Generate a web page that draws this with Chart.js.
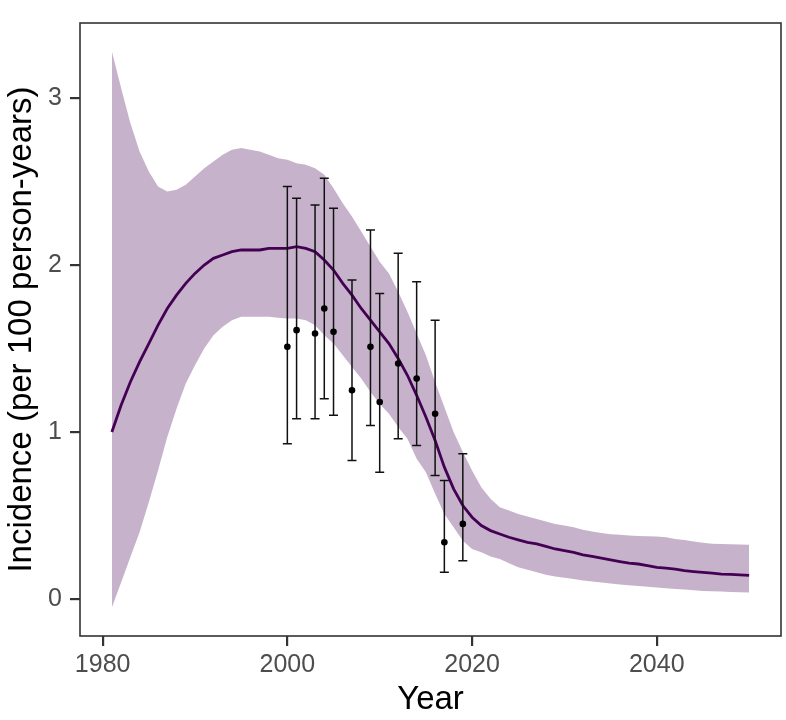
<!DOCTYPE html>
<html>
<head>
<meta charset="utf-8">
<script src="https://cdn.jsdelivr.net/npm/chart.js@4.4.0/dist/chart.umd.min.js"></script>
<style>
  html, body { margin: 0; padding: 0; background: #fff; }
</style>
</head>
<body>
<canvas id="incidenceChart" width="786" height="720"></canvas>
<script>
// model years
const years = [
    1981, 1982, 1983, 1984, 1985, 1986, 1987, 1988, 1989, 1990,
    1991, 1992, 1993, 1994, 1995, 1996, 1997, 1998, 1999, 2000,
    2001, 2002, 2003, 2004, 2005, 2006, 2007, 2008, 2009, 2010,
    2011, 2012, 2013, 2014, 2015, 2016, 2017, 2018, 2019, 2020,
    2021, 2022, 2023, 2024, 2025, 2026, 2027, 2028, 2029, 2030,
    2031, 2032, 2033, 2034, 2035, 2036, 2037, 2038, 2039, 2040,
    2041, 2042, 2043, 2044, 2045, 2046, 2047, 2048, 2049, 2050
];

// model estimate (median)
const fitMid = [
    1.00, 1.16, 1.30, 1.42, 1.53, 1.64, 1.74, 1.82, 1.89, 1.95,
    2.00, 2.04, 2.06, 2.08, 2.09, 2.09, 2.09, 2.10, 2.10, 2.10,
    2.11, 2.10, 2.08, 2.03, 1.97, 1.89, 1.82, 1.74, 1.67, 1.60,
    1.53, 1.44, 1.34, 1.22, 1.09, 0.95, 0.79, 0.66, 0.56, 0.49,
    0.44, 0.41, 0.39, 0.37, 0.355, 0.34, 0.33, 0.315, 0.30, 0.29,
    0.28, 0.265, 0.255, 0.245, 0.235, 0.225, 0.215, 0.21, 0.20, 0.19,
    0.185, 0.18, 0.17, 0.165, 0.16, 0.155, 0.15, 0.148, 0.145, 0.142
];

// credible interval, upper edge
const fitUpper = [
    3.28, 3.06, 2.85, 2.68, 2.56, 2.47, 2.44, 2.45, 2.48, 2.53,
    2.58, 2.62, 2.66, 2.69, 2.70, 2.69, 2.68, 2.66, 2.64, 2.63,
    2.61, 2.60, 2.58, 2.54, 2.46, 2.37, 2.29, 2.20, 2.11, 2.02,
    1.95, 1.84, 1.72, 1.59, 1.46, 1.30, 1.15, 1.00, 0.88, 0.77,
    0.67, 0.60, 0.55, 0.53, 0.51, 0.495, 0.48, 0.465, 0.45, 0.44,
    0.43, 0.415, 0.405, 0.395, 0.388, 0.385, 0.38, 0.378, 0.376, 0.375,
    0.37, 0.36, 0.353, 0.345, 0.338, 0.332, 0.33, 0.328, 0.327, 0.326
];

// credible interval, lower edge
const fitLower = [
    -0.05, 0.10, 0.25, 0.40, 0.58, 0.77, 0.97, 1.14, 1.29, 1.40,
    1.50, 1.58, 1.63, 1.67, 1.69, 1.69, 1.69, 1.69, 1.685, 1.68,
    1.68, 1.67, 1.64, 1.58, 1.53, 1.46, 1.39, 1.32, 1.24, 1.17,
    1.11, 1.03, 0.96, 0.84, 0.76, 0.63, 0.51, 0.43, 0.35, 0.30,
    0.28, 0.255, 0.24, 0.215, 0.19, 0.175, 0.16, 0.145, 0.135, 0.127,
    0.12, 0.112, 0.105, 0.099, 0.093, 0.088, 0.083, 0.078, 0.074, 0.07,
    0.065, 0.061, 0.057, 0.053, 0.049, 0.047, 0.045, 0.043, 0.041, 0.039
];

// observed incidence with 95% CI
const obsYears  = [2000, 2001, 2003, 2004, 2005, 2007, 2009, 2010, 2012, 2014, 2016, 2017, 2019];
const obsValues = [1.51, 1.61, 1.59, 1.74, 1.60, 1.25, 1.51, 1.18, 1.41, 1.32, 1.11, 0.34, 0.45];
const obsLower  = [0.93, 1.08, 1.08, 1.20, 1.10, 0.83, 1.04, 0.76, 0.96, 0.92, 0.74, 0.16, 0.23];
const obsUpper  = [2.47, 2.40, 2.36, 2.52, 2.34, 1.91, 2.21, 1.83, 2.07, 1.90, 1.67, 0.71, 0.87];

const xTicks = [1980, 2000, 2020, 2040];
const yTicks = [0, 1, 2, 3];

const toPoints = (xs, ys) => xs.map((x, i) => ({ x: x, y: ys[i] }));

// error bars are drawn just before the points dataset (index 0)
const errorBars = {
    id: 'errorBars',
    beforeDatasetDraw(chart, args) {
        if (args.index !== 0) return;
        const { ctx, scales } = chart;
        ctx.save();
        ctx.strokeStyle = '#111';
        ctx.lineWidth = 1.5;
        obsYears.forEach((yr, i) => {
            const px = scales.x.getPixelForValue(yr);
            const lo = scales.y.getPixelForValue(obsLower[i]);
            const hi = scales.y.getPixelForValue(obsUpper[i]);
            ctx.beginPath();
            ctx.moveTo(px, lo);
            ctx.lineTo(px, hi);
            ctx.moveTo(px - 4.5, lo);
            ctx.lineTo(px + 4.5, lo);
            ctx.moveTo(px - 4.5, hi);
            ctx.lineTo(px + 4.5, hi);
            ctx.stroke();
        });
        ctx.restore();
    }
};

// panel border on all four sides
const panelBorder = {
    id: 'panelBorder',
    afterDatasetsDraw(chart) {
        const { ctx, chartArea } = chart;
        ctx.save();
        ctx.strokeStyle = '#333';
        ctx.lineWidth = 1.6;
        ctx.strokeRect(chartArea.left, chartArea.top,
            chartArea.right - chartArea.left, chartArea.bottom - chartArea.top);
        ctx.restore();
    }
};

const tickFont = { family: "'Liberation Sans', Arial, sans-serif", size: 25 };
const titleFont = { family: "'Liberation Sans', Arial, sans-serif", size: 33 };

new Chart(document.getElementById('incidenceChart'), {
    type: 'line',
    data: {
        datasets: [
            {
                type: 'scatter',
                data: toPoints(obsYears, obsValues),
                pointRadius: 3.3,
                pointBackgroundColor: '#000',
                pointBorderWidth: 0,
                showLine: false
            },
            {
                data: toPoints(years, fitMid),
                borderColor: '#440154',
                borderWidth: 2.8,
                pointRadius: 0,
                fill: false
            },
            {
                data: toPoints(years, fitUpper),
                borderWidth: 0,
                pointRadius: 0,
                backgroundColor: 'rgba(68, 1, 84, 0.3)',
                fill: '+1'
            },
            {
                data: toPoints(years, fitLower),
                borderWidth: 0,
                pointRadius: 0,
                fill: false
            }
        ]
    },
    options: {
        responsive: false,
        animation: false,
        layout: { padding: { left: 0, right: 5, top: 5, bottom: 0 } },
        plugins: {
            legend: { display: false },
            tooltip: { enabled: false }
        },
        scales: {
            x: {
                type: 'linear',
                min: 1977.55,
                max: 2053.45,
                afterBuildTicks: (scale) => { scale.ticks = xTicks.map(v => ({ value: v })); },
                afterFit: (scale) => { scale.height = 84; },
                grid: { display: true, drawOnChartArea: false, drawTicks: true, tickLength: 10, color: '#333', lineWidth: 2.2 },
                border: { display: false },
                ticks: { font: tickFont, color: '#4d4d4d', padding: 4, maxRotation: 0, callback: (v) => String(v) },
                title: { display: true, text: 'Year', font: titleFont, color: '#000', padding: { top: 0, bottom: 0 } }
            },
            y: {
                min: -0.221,
                max: 3.449,
                afterBuildTicks: (scale) => { scale.ticks = yTicks.map(v => ({ value: v })); },
                afterFit: (scale) => { scale.width = 80; },
                grid: { display: true, drawOnChartArea: false, drawTicks: true, tickLength: 10, color: '#333', lineWidth: 2.2 },
                border: { display: false },
                ticks: { font: tickFont, color: '#4d4d4d', padding: 8, callback: (v) => String(v) },
                title: { display: true, text: 'Incidence (per 100 person-years)', font: titleFont, color: '#000', padding: { top: 2, bottom: 0 } }
            }
        }
    },
    plugins: [errorBars, panelBorder]
});
</script>
</body>
</html>
